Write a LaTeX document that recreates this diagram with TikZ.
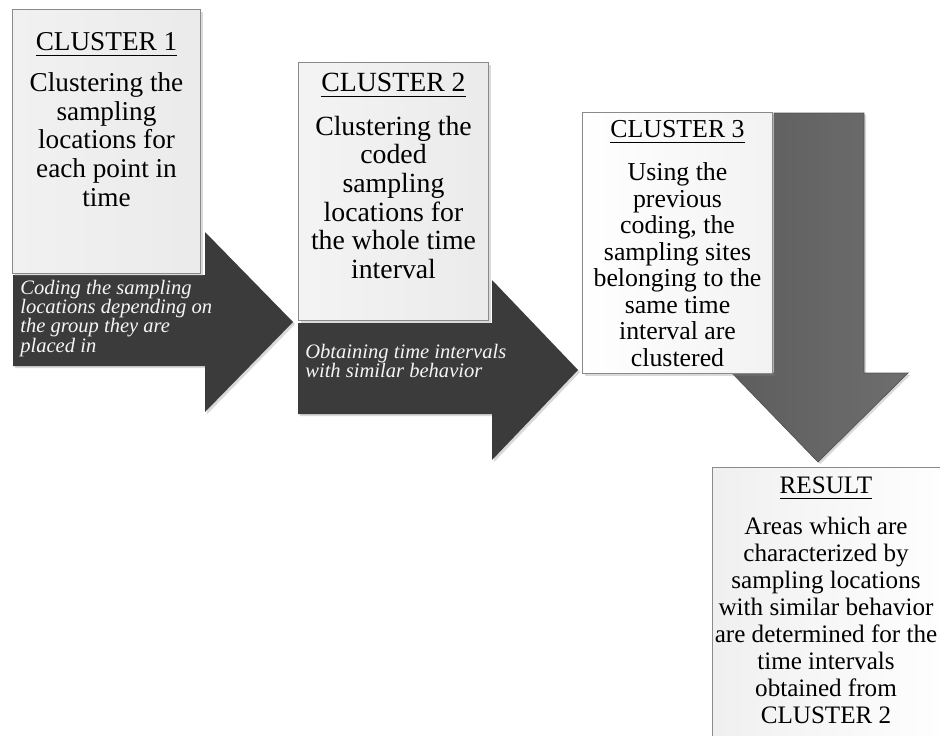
\documentclass[tikz,border=0pt]{standalone}
\usepackage{fontspec}
\setmainfont{Liberation Serif}
\usetikzlibrary{positioning}
\usetikzlibrary{shadows}

\definecolor{arrowdark}{HTML}{3B3B3B}
\definecolor{arrowmid}{HTML}{6E6E6E}
\definecolor{boxline}{HTML}{8A8A8A}

\newcommand{\titleline}[1]{\setbox0\hbox{#1}\rlap{\rule[-3.2pt]{\wd0}{0.55pt}}\box0}

\tikzset{
    stepbox/.style={draw=boxline, line width=0.6pt, anchor=north west, inner sep=0pt,
        drop shadow={shadow xshift=1.4pt, shadow yshift=-1.4pt, opacity=0.3}},
    boxtitle/.style={anchor=north, inner sep=0pt},
    boxbody/.style={align=center, anchor=north, inner sep=0pt},
    arrowtext/.style={font=\fontsize{11.7}{10.9}\selectfont\itshape, text=gray!8,
        align=left, anchor=north west, inner sep=0pt},
    blockarrow/.style={drop shadow={shadow xshift=1.2pt, shadow yshift=-1.2pt, opacity=0.3}}
}

\begin{document}
\begin{tikzpicture}[x=0.02cm,y=-0.02cm]
            \useasboundingbox (0,0) rectangle (940,735);

            % block arrows
            \fill[blockarrow, arrowdark] (13,275) -- (205,275) -- (205,232) -- (293,322)
                -- (205,412) -- (205,366) -- (13,366) -- cycle;
            \fill[blockarrow, arrowdark] (298,323) -- (492,323) -- (492,280) -- (578,370)
                -- (492,460) -- (492,414) -- (298,414) -- cycle;
            \shade[blockarrow, left color=arrowmid!85!black, right color=arrowmid, draw=arrowmid!75!black, line width=0.4pt]
                (774,113) -- (864,113) -- (864,373) -- (908,373) -- (818,462)
                -- (732,373) -- (774,373) -- cycle;

            \node[arrowtext] (code) at (20,280)
                {Coding the sampling\\locations depending on\\the group they are\\placed in};
            \node[arrowtext] (obtain) at (305,344)
                {Obtaining time intervals\\with similar behavior};

            % boxes
            \node[stepbox, left color=gray!11, right color=gray!16,
                minimum width=3.76cm, minimum height=5.28cm] (box1) at (12,9) {};
            \node[stepbox, left color=gray!9, right color=gray!16,
                minimum width=3.8cm, minimum height=5.16cm] (box2) at (298,62) {};
            \node[stepbox, left color=white, right color=gray!10,
                minimum width=3.8cm, minimum height=5.22cm] (box3) at (582,112) {};
            \node[stepbox, left color=gray!12, right color=white,
                minimum width=4.9cm, minimum height=5.9cm] (result) at (712,467) {};

            \begin{scope}[font=\fontsize{15.5}{16.3}\selectfont]
                \node[boxtitle] (title1) at ([yshift=-0.46cm]box1.north) {\titleline{CLUSTER 1}};
                \node[boxbody, below=0.32cm of title1] (body1)
                    {Clustering the\\sampling\\locations for\\each point in\\time};
            \end{scope}

            \begin{scope}[font=\fontsize{15.8}{16.3}\selectfont]
                \node[boxtitle] (title2) at ([yshift=-0.22cm]box2.north) {\titleline{CLUSTER 2}};
                \node[boxbody, below=0.36cm of title2] (body2)
                    {Clustering the\\coded\\sampling\\locations for\\the whole time\\interval};
            \end{scope}

            \begin{scope}[font=\fontsize{14.7}{15.1}\selectfont]
                \node[boxtitle] (title3) at ([yshift=-0.16cm]box3.north) {\titleline{CLUSTER 3}};
                \node[boxbody, below=0.38cm of title3] (body3)
                    {Using the\\previous\\coding, the\\sampling sites\\belonging to the\\same time\\interval are\\clustered};
            \end{scope}

            \begin{scope}[font=\fontsize{14.3}{15.4}\selectfont]
                \node[boxtitle] (title4) at ([xshift=-0.18cm, yshift=-0.19cm]result.north) {\titleline{RESULT}};
                \node[boxbody, below=0.34cm of title4] (body4)
                    {Areas which are\\characterized by\\sampling locations\\with similar behavior\\are determined for the\\time intervals\\obtained from\\CLUSTER 2};
            \end{scope}
        \end{tikzpicture}
\end{document}
